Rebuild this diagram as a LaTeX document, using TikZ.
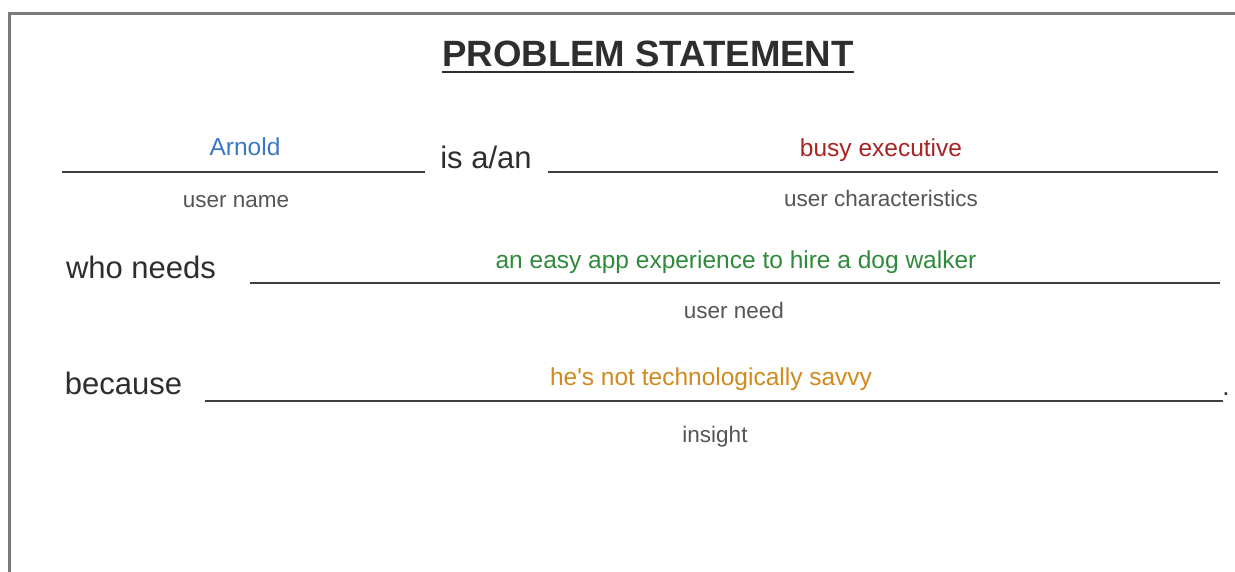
\documentclass[tikz,border=0pt]{standalone}
\usepackage{fontspec}
\setmainfont{Liberation Sans}
\definecolor{framegray}{HTML}{7A7A7A}
\definecolor{linegray}{HTML}{3F3F3F}
\definecolor{labelgray}{HTML}{555555}
\definecolor{txtdark}{HTML}{2E2E2E}
\definecolor{nameblue}{HTML}{3A78C4}
\definecolor{charred}{HTML}{A82424}
\definecolor{needgreen}{HTML}{2F8A3C}
\definecolor{insightorange}{HTML}{D08A1E}
\tikzset{
  blank/.style={draw=linegray, line width=2pt},
  bigtxt/.style={anchor=base, inner sep=0pt, text=txtdark, font=\fontsize{31}{36}\selectfont},
  filltxt/.style={anchor=base, inner sep=0pt, font=\fontsize{24.5}{29}\selectfont},
  labeltxt/.style={anchor=base, inner sep=0pt, text=labelgray, font=\fontsize{22.5}{27}\selectfont},
}
\begin{document}
\begin{tikzpicture}[x=1pt,y=-1pt]
\useasboundingbox (0,0) rectangle (1235,571);
\fill[white] (0,0) rectangle (1235,571);
% frame (right and bottom edges fall outside the picture)
\draw[framegray, line width=3pt] (9.5,590) -- (9.5,13.5) -- (1250,13.5);
% title
\node[anchor=base, inner sep=0pt, font=\bfseries\fontsize{36.6}{41}\selectfont, text=txtdark] (title) at (648,66) {PROBLEM STATEMENT};
\draw[txtdark, line width=2.5pt] (title.base west) ++(0,6) -- ([yshift=-6pt]title.base east);
% row 1
\coordinate (a1) at (62,172); \coordinate (a2) at (425,172);
\draw[blank] (a1) -- (a2);
\node[filltxt, text=nameblue] (arnold) at (245,155) {Arnold};
\node[labeltxt] (uname) at (236,207) {user name};
\node[bigtxt] (isan) at (486,168) {is a/an};
\coordinate (b1) at (548,172); \coordinate (b2) at (1218,172);
\draw[blank] (b1) -- (b2);
\node[filltxt, text=charred] (busy) at (881,156) {busy executive};
\node[labeltxt] (uchar) at (881,206) {user characteristics};
% row 2
\node[bigtxt] (who) at (141,278) {who needs};
\coordinate (c1) at (250,283); \coordinate (c2) at (1220,283);
\draw[blank] (c1) -- (c2);
\node[filltxt, text=needgreen] (need) at (736,268) {an easy app experience to hire a dog walker};
\node[labeltxt] (uneed) at (734,318) {user need};
% row 3
\node[bigtxt] (because) at (123.5,394) {because};
\coordinate (d1) at (205,401); \coordinate (d2) at (1223,401);
\draw[blank] (d1) -- (d2);
\node[labeltxt, text=txtdark, font=\fontsize{26}{30}\selectfont] (dot) at (1226,395.5) {.};
\node[filltxt, text=insightorange] (insight) at (711,385) {he\textquotesingle s not technologically savvy};
\node[labeltxt] (uins) at (715,442) {insight};
\end{tikzpicture}
\end{document}
